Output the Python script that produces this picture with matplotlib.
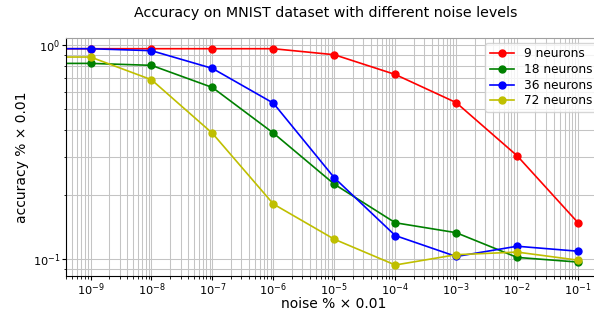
import matplotlib
matplotlib.use("Agg")
import matplotlib.pyplot as plt

# noise levels (0 = no noise, clipped off the left of the log axis)
noise = [0, 1e-9, 1e-8, 1e-7, 1e-6, 1e-5, 1e-4, 1e-3, 1e-2, 1e-1]

acc_9 = [0.96, 0.96, 0.96, 0.96, 0.96, 0.90, 0.728, 0.538, 0.304, 0.148]
acc_18 = [0.82, 0.82, 0.803, 0.633, 0.388, 0.224, 0.148, 0.133, 0.102, 0.097]
acc_36 = [0.96, 0.96, 0.94, 0.777, 0.535, 0.24, 0.129, 0.103, 0.115, 0.109]
acc_72 = [0.878, 0.878, 0.688, 0.387, 0.181, 0.124, 0.094, 0.105, 0.108, 0.099]

series = [
    ("9 neurons", acc_9, "r"),
    ("18 neurons", acc_18, "g"),
    ("36 neurons", acc_36, "b"),
    ("72 neurons", acc_72, "y"),
]


def main():
    fig = plt.figure(figsize=(5.94, 3.12), dpi=100)
    ax = fig.add_axes([0.111, 0.116, 0.903, 0.763])

    for label, values, color in series:
        ax.plot(noise, values, "-o", color=color, label=label,
                linewidth=1.2, markersize=5)

    ax.set_xscale("log", nonpositive="clip")
    ax.set_yscale("log")
    ax.set_xlim(3.95e-10, 0.25)
    ax.set_ylim(0.0837, 1.08)

    ax.grid(True, which="both", color="#c4c4c4", linewidth=0.75)
    ax.spines["top"].set_color("#a0a0a0")
    ax.spines["right"].set_visible(False)
    ax.tick_params(which="major", labelsize=8.2, length=3, pad=1)
    ax.tick_params(which="minor", length=1.8)

    ax.set_title("Accuracy on MNIST dataset with different noise levels",
                 fontsize=10.3, pad=15, x=0.485)
    ax.set_xlabel("noise % × 0.01", fontsize=10, labelpad=-1)
    ax.set_ylabel("accuracy % × 0.01", fontsize=10, labelpad=3)
    ax.legend(loc="upper right", fontsize=8.7, labelspacing=0.22,
              borderaxespad=0.4)

    plt.savefig("out.png", dpi=100)


if __name__ == '__main__':
    main()
